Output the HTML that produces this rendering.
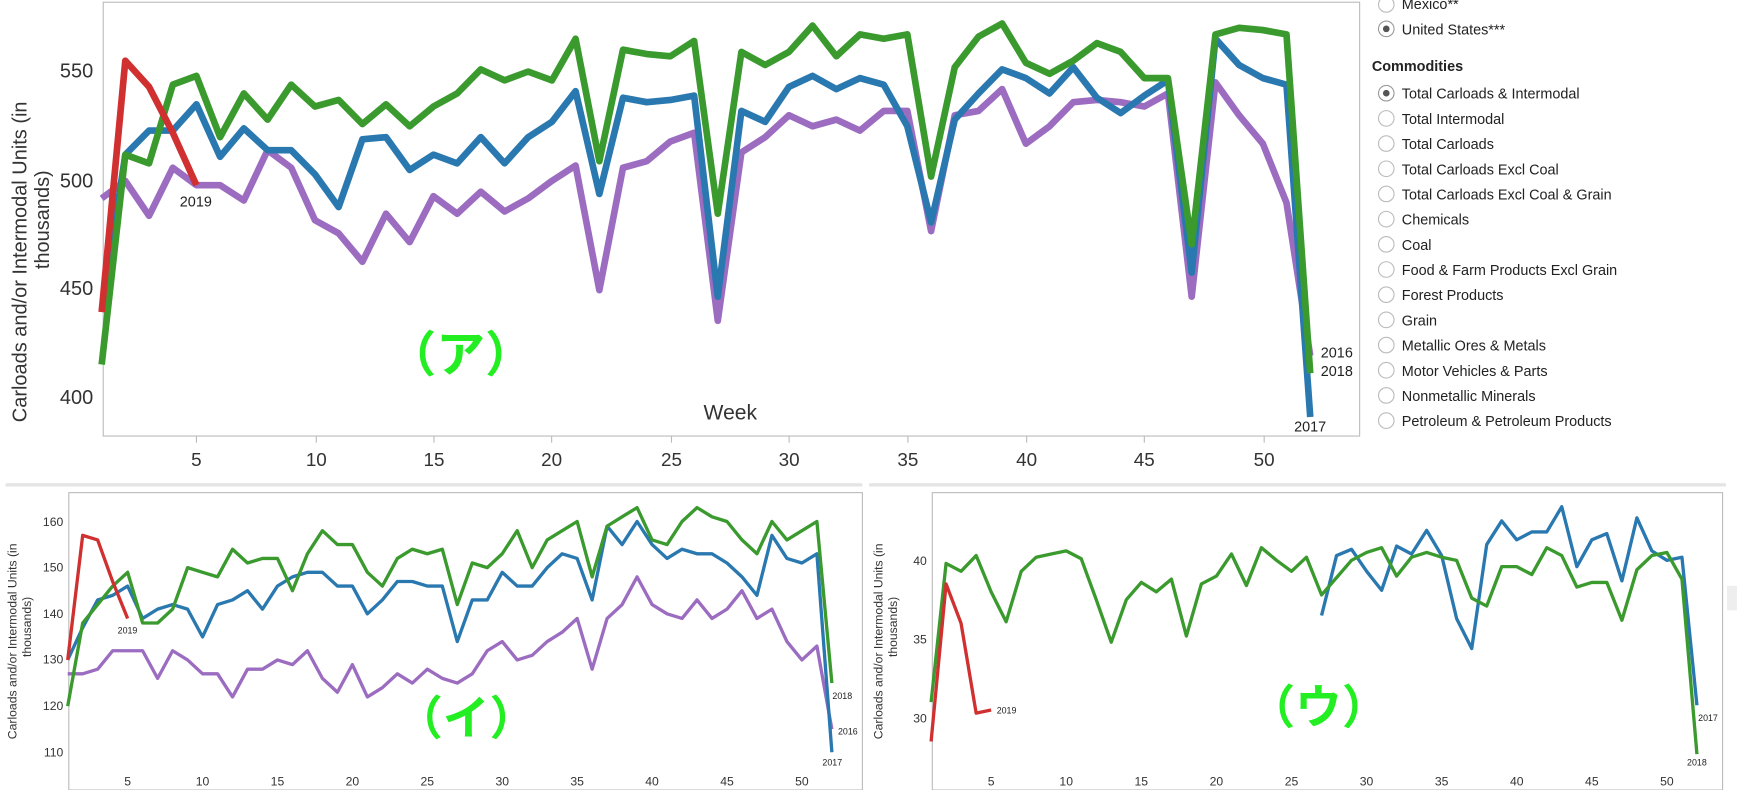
<!DOCTYPE html>
<html><head><meta charset="utf-8">
<style>
html,body{margin:0;padding:0;background:#fff;}
svg{display:block;}
text{font-family:"Liberation Sans","Noto Sans CJK JP",sans-serif;}
</style></head>
<body>
<svg id="s" width="1737" height="790" viewBox="0 0 1565 712" preserveAspectRatio="none" xmlns="http://www.w3.org/2000/svg">
<rect width="1565" height="712" fill="#fff"/>
<!-- top chart frame -->
<rect x="93" y="2" width="1132" height="391" fill="none" stroke="#bbb" stroke-width="1"/>
<g font-size="18" fill="#333" text-anchor="end">
<text x="84" y="70">550</text><text x="84" y="169">500</text><text x="84" y="266">450</text><text x="84" y="364">400</text>
</g>
<g font-size="17" fill="#333" text-anchor="middle">
<text x="177" y="420">5</text><text x="285" y="420">10</text><text x="391" y="420">15</text><text x="497" y="420">20</text><text x="605" y="420">25</text><text x="711" y="420">30</text><text x="818" y="420">35</text><text x="925" y="420">40</text><text x="1031" y="420">45</text><text x="1139" y="420">50</text>
</g>
<g stroke="#bbb"><line x1="177" y1="393" x2="177" y2="399"/><line x1="285" y1="393" x2="285" y2="399"/><line x1="391" y1="393" x2="391" y2="399"/><line x1="497" y1="393" x2="497" y2="399"/><line x1="605" y1="393" x2="605" y2="399"/><line x1="711" y1="393" x2="711" y2="399"/><line x1="818" y1="393" x2="818" y2="399"/><line x1="925" y1="393" x2="925" y2="399"/><line x1="1031" y1="393" x2="1031" y2="399"/><line x1="1139" y1="393" x2="1139" y2="399"/></g>
<text transform="translate(24,236) rotate(-90)" font-size="18" fill="#333" text-anchor="middle">Carloads and/or Intermodal Units (in</text>
<text transform="translate(44,198) rotate(-90)" font-size="18" fill="#333" text-anchor="middle">thousands)</text>
<text x="658" y="378" font-size="19" fill="#333" text-anchor="middle">Week</text>
<g id="top"></g>
<g font-size="13" fill="#222">
<text x="162" y="186">2019</text><text x="1190" y="322">2016</text><text x="1190" y="339">2018</text><text x="1166" y="389">2017</text>
</g>
<text x="415" y="335" font-size="44" font-weight="bold" fill="#22ee22" text-anchor="middle">（ア）</text>

<!-- legend -->
<g font-size="13" fill="#222">
<circle cx="1249" cy="4" r="7" fill="#fff" stroke="#bbb"/><text x="1263" y="8">Mexico**</text>
<circle cx="1249" cy="26" r="7" fill="#fff" stroke="#999"/><circle cx="1249" cy="26" r="3" fill="#555"/><text x="1263" y="31">United States***</text>
<text x="1236" y="64" font-weight="bold">Commodities</text>
</g>
<g id="leg" font-size="13" fill="#222"></g>

<!-- separators -->
<line x1="5" y1="437" x2="777" y2="437" stroke="#e4e4e4" stroke-width="3"/>
<line x1="783" y1="437" x2="1555" y2="437" stroke="#e4e4e4" stroke-width="3"/>

<!-- bottom left -->
<rect x="62" y="444" width="715" height="268" fill="none" stroke="#bbb"/>
<g font-size="11" fill="#333" text-anchor="end">
<text x="57" y="474">160</text><text x="57" y="515">150</text><text x="57" y="557">140</text><text x="57" y="598">130</text><text x="57" y="640">120</text><text x="57" y="682">110</text>
</g>
<text transform="translate(15,578) rotate(-90)" font-size="11" fill="#333" text-anchor="middle">Carloads and/or Intermodal Units (in</text>
<text transform="translate(28,565) rotate(-90)" font-size="11" fill="#333" text-anchor="middle">thousands)</text>
<g font-size="11" fill="#333" text-anchor="middle" id="blx"></g>
<g id="bl"></g>
<g font-size="8" fill="#222"><text x="106" y="571">2019</text><text x="750" y="630">2018</text><text x="755" y="662">2016</text><text x="741" y="690">2017</text></g>
<text x="420" y="662" font-size="42" font-weight="bold" fill="#22ee22" text-anchor="middle">（イ）</text>

<!-- bottom right -->
<rect x="840" y="444" width="712" height="268" fill="none" stroke="#bbb"/>
<g font-size="11" fill="#333" text-anchor="end">
<text x="835" y="509">40</text><text x="835" y="580">35</text><text x="835" y="651">30</text>
</g>
<text transform="translate(795,578) rotate(-90)" font-size="11" fill="#333" text-anchor="middle">Carloads and/or Intermodal Units (in</text>
<text transform="translate(808,565) rotate(-90)" font-size="11" fill="#333" text-anchor="middle">thousands)</text>
<g font-size="11" fill="#333" text-anchor="middle" id="brx"></g>
<g id="br"></g>
<g font-size="8" fill="#222"><text x="898" y="643">2019</text><text x="1530" y="650">2017</text><text x="1520" y="690">2018</text></g>
<text x="1188" y="652" font-size="42" font-weight="bold" fill="#22ee22" text-anchor="middle">（ウ）</text>
<rect x="1556" y="528" width="9" height="22" fill="#eee"/>
</svg>
<script>
var NS="http://www.w3.org/2000/svg";
function poly(g,xs,ys,col,w,start){var p=[];for(var i=0;i<ys.length;i++){p.push(xs(i+(start||1)).toFixed(1)+","+ys[i]);}
var e=document.createElementNS(NS,"polyline");e.setAttribute("points",p.join(" "));e.setAttribute("fill","none");e.setAttribute("stroke",col);e.setAttribute("stroke-width",w);e.setAttribute("stroke-linejoin","round");document.getElementById(g).appendChild(e);}
function map(a,f){return a.map(f);}
var G="#3a9a2e",B="#2a78b0",P="#9b6cc0",R="#d03030";
// top
var tx=function(w){return 177+(w-5)*21.35;},ty=function(v){return (163-(v-500)*1.97).toFixed(1);};
var tp=[492,500,484,506,498,498,491,514,506,482,476,463,485,472,493,485,495,486,492,500,507,450,506,509,518,522,436,513,520,530,525,528,523,532,532,477,530,532,542,517,525,536,537,536,534,540,447,545,530,517,490,420];
var tb=[440,512,523,523,535,511,524,514,514,503,488,519,520,505,512,508,520,508,520,527,541,494,538,536,537,539,447,532,527,543,548,542,547,544,525,481,528,540,551,547,540,552,538,531,539,546,458,565,553,547,544,392];
var tg=[416,512,508,544,548,520,540,528,544,534,537,526,535,525,534,540,551,546,550,546,565,509,560,558,557,564,485,559,553,559,571,557,567,565,567,502,552,566,572,554,549,555,563,559,547,547,471,567,570,569,567,412];
var tr=[440,555,543,522,498];
poly("top",tx,map(tp,ty),P,6);poly("top",tx,map(tb,ty),B,6);poly("top",tx,map(tg,ty),G,6);poly("top",tx,map(tr,ty),R,6);
// legend
var items=["Total Carloads & Intermodal","Total Intermodal","Total Carloads","Total Carloads Excl Coal","Total Carloads Excl Coal & Grain","Chemicals","Coal","Food & Farm Products Excl Grain","Forest Products","Grain","Metallic Ores & Metals","Motor Vehicles & Parts","Nonmetallic Minerals","Petroleum & Petroleum Products"];
var lg=document.getElementById("leg");
items.forEach(function(t,i){var y=84+i*22.7;
var c=document.createElementNS(NS,"circle");c.setAttribute("cx",1249);c.setAttribute("cy",y);c.setAttribute("r",7);c.setAttribute("fill","#fff");c.setAttribute("stroke",i==0?"#999":"#bbb");lg.appendChild(c);
if(i==0){var d=document.createElementNS(NS,"circle");d.setAttribute("cx",1249);d.setAttribute("cy",y);d.setAttribute("r",3);d.setAttribute("fill","#555");lg.appendChild(d);}
var tt=document.createElementNS(NS,"text");tt.setAttribute("x",1263);tt.setAttribute("y",y+5);tt.textContent=t;lg.appendChild(tt);});
// bottom left
var lx=function(w){return 115+(w-5)*13.5;},ly=function(v){return (470+(160-v)*4.16).toFixed(1);};
var lgr=[120,138,142,146,149,138,138,141,150,149,148,154,151,152,152,145,153,158,155,155,149,146,152,154,153,154,142,151,150,153,158,150,156,158,160,148,159,161,163,156,155,160,163,161,160,156,153,160,156,158,160,125];
var lb=[130,137,143,144,146,139,141,142,141,135,142,143,145,141,146,148,149,149,146,146,140,143,147,147,146,146,134,143,143,149,146,146,150,153,152,143,159,155,160,155,152,154,153,153,151,148,144,157,152,151,153,110];
var lp=[127,127,128,132,132,132,126,132,130,127,127,122,128,128,130,129,132,126,123,129,122,124,127,125,128,126,125,127,132,134,130,131,134,136,139,128,139,142,148,142,140,139,143,139,141,145,139,141,134,130,133,115];
var lr=[130,157,156,147,139];
poly("bl",lx,map(lp,ly),P,3);poly("bl",lx,map(lb,ly),B,3);poly("bl",lx,map(lgr,ly),G,3);poly("bl",lx,map(lr,ly),R,3);
// bottom right
var rx=function(w){return 893+(w-5)*13.53;},ry=function(v){return (505+(40-v)*14.2).toFixed(1);};
var rg=[31,39.8,39.3,40.3,38,36.1,39.3,40.2,40.4,40.6,40.1,37.5,34.8,37.5,38.6,38,38.8,35.2,38.5,39,40.4,38.4,40.8,40,39.3,40.2,37.8,38.9,40,40.5,40.8,39,40.2,40.5,40.2,40,37.6,37.1,39.6,39.6,39.1,40.8,40.3,38.3,38.6,38.6,36.2,39.4,40.3,40.5,38.8,27.7];
var rb=[36.5,40.3,40.7,39.3,38.1,40.9,40.4,41.9,40.3,36.3,34.4,41,42.5,41.3,41.8,41.8,43.4,39.6,41.3,41.7,38.7,42.7,40.6,40,40.2,30.8];
var rr=[28.5,38.5,36,30.3,30.5];
poly("br",rx,map(rb,ry),B,3,27);poly("br",rx,map(rg,ry),G,3);poly("br",rx,map(rr,ry),R,3);
// x ticks bottom
[5,10,15,20,25,30,35,40,45,50].forEach(function(w){
 [["blx",lx],["brx",rx]].forEach(function(a){var t=document.createElementNS(NS,"text");t.setAttribute("x",a[1](w));t.setAttribute("y",708);t.textContent=w;document.getElementById(a[0]).appendChild(t);});
});
</script>
</body></html>
